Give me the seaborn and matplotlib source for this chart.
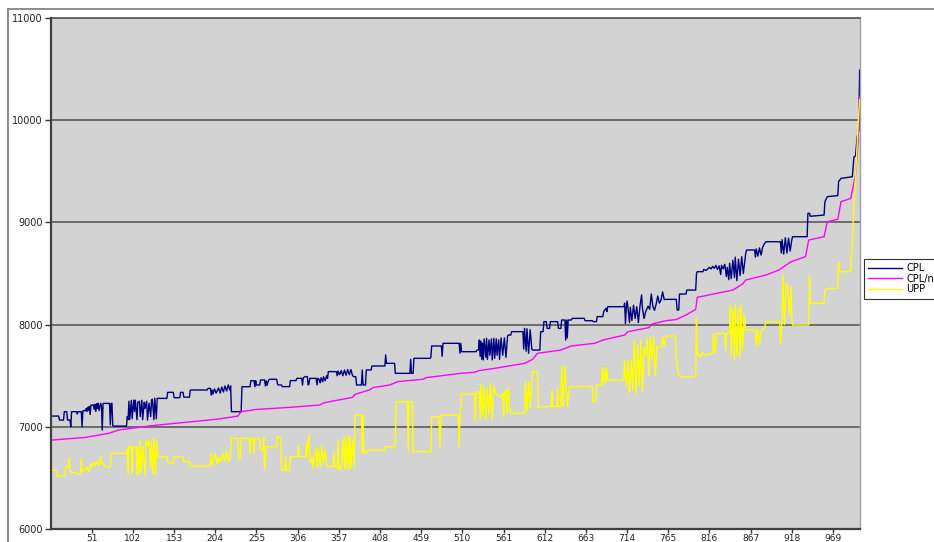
import matplotlib
matplotlib.use("Agg")
import matplotlib.pyplot as plt
from matplotlib.lines import Line2D
import seaborn as sns
import pandas as pd

N_POINTS = 1002
x_ticks = [51, 102, 153, 204, 255, 306, 357, 408, 459, 510, 561, 612, 663, 714, 765, 816, 867, 918, 969]
y_ticks = [6000, 7000, 8000, 9000, 10000, 11000]
series_names = ["CPL", "CPL/nuc", "UPP"]

# (category index, value)
cpl_points = [
    (1,7105),(10,7105),(11,7066),(16,7066),(17,7148),(20,7148),(21,7066),(24,7066),(25,7001),(26,7148),
    (32,7148),(33,7125),(34,7148),(38,7148),(39,7001),(40,7157),(43,7157),(44,7180),(45,7150),(46,7190),
    (47,7160),(48,7200),(49,7120),(50,7213),(53,7213),(54,7170),(55,7220),(56,7150),(57,7225),(58,7180),
    (59,7230),(60,7160),(62,7230),(63,7200),(64,6968),(65,7229),(73,7229),(74,7020),(75,7229),(76,7229),
    (77,7010),(78,7007),(94,7007),(95,7100),(96,7070),(97,7250),(98,7070),(100,7260),(101,7080),(103,7262),
    (104,7150),(105,7260),(107,7070),(108,7240),(110,7250),(111,7100),(113,7260),(114,7070),(116,7240),
    (117,7180),(119,7250),(120,7066),(122,7230),(124,7100),(125,7262),(126,7270),(128,7070),(129,7280),
    (131,7080),(132,7278),(144,7278),(145,7337),(152,7337),(153,7285),(160,7285),(161,7337),(164,7337),
    (165,7290),(172,7290),(173,7360),(194,7360),(195,7376),(198,7376),(199,7310),(200,7360),(201,7320),
    (203,7370),(205,7330),(208,7380),(210,7330),(212,7390),(214,7340),(216,7400),(218,7350),(220,7410),
    (222,7360),(223,7400),(224,7148),(236,7148),(237,7392),(247,7392),(248,7451),(252,7451),(253,7392),
    (254,7451),
    (255,7409),(259,7409),(260,7458),(265,7458),(266,7400),(267,7450),(268,7405),(270,7455),(271,7465),
    (280,7465),(281,7420),(282,7409),(286,7409),(287,7393),(296,7393),(297,7452),(304,7452),(305,7474),
    (311,7474),(312,7409),(313,7480),(315,7491),(318,7491),(319,7409),(320,7420),(321,7474),(329,7474),
    (330,7409),(331,7474),(333,7460),(334,7430),(335,7480),(337,7440),(338,7490),(340,7450),(342,7500),
    (343,7474),(344,7540),(354,7540),(355,7500),(356,7545),(358,7510),(360,7550),(362,7500),(364,7555),
    (366,7505),(368,7560),(370,7510),(372,7560),(374,7500),(376,7490),(378,7490),(379,7409),(385,7409),
    (386,7556),(387,7409),(390,7409),(391,7556),(397,7556),(398,7595),(414,7595),(415,7703),(416,7621),
    (426,7621),(427,7523),(445,7523),(446,7660),(447,7523),(449,7523),(450,7670),(470,7670),(471,7680),
    (472,7791),(484,7791),(485,7690),(486,7817),(506,7817),(507,7720),(508,7817),
    (509,7735),(527,7735),(528,7751),(530,7751),(531,7849),(532,7690),(533,7840),(534,7660),(535,7820),
    (536,7654),(537,7860),(539,7680),(540,7866),(541,7660),(543,7850),(544,7700),(546,7860),(547,7654),
    (549,7866),(550,7670),(552,7860),(553,7700),(555,7850),(556,7660),(558,7870),(560,7700),(562,7870),
    (564,7680),(566,7890),(567,7898),(570,7898),(571,7931),(585,7931),(586,7760),(587,7963),(589,7740),
    (590,7960),(592,7719),(594,7950),(596,7760),(597,7751),(606,7751),(607,7931),(610,7931),(611,8029),
    (614,8029),(615,7963),(618,7963),(619,8029),(628,8029),(629,7963),(632,7963),(633,8045),(637,8045),
    (638,7849),(639,8045),(640,7870),(641,8045),(645,8045),(646,8061),(661,8061),(662,8038),(671,8038),
    (672,8029),(676,8029),(677,8078),(684,8078),(685,8127),(688,8160),(689,8127),(690,8175),(710,8175),
    (711,8210),(712,8010),(713,8160),(714,8230),(715,8175),(717,8020),(718,8170),(720,8040),(722,8190),
    (724,8060),(726,8175),(728,8020),(730,8180),(732,8290),(733,8160),(735,8060),(737,8127),(740,8180),
    (742,8150),(744,8300),(746,8175),(748,8140),(750,8200),(752,8280),(754,8210),(756,8240),(758,8320),
    (760,8245),
    (762,8247),(775,8247),(776,8143),(778,8143),(779,8299),(787,8299),(788,8338),(799,8338),(800,8501),
    (801,8518),(808,8518),(809,8540),(812,8530),(816,8560),(818,8545),(820,8570),(822,8550),(824,8580),
    (826,8540),(828,8575),(830,8490),(831,8580),(833,8545),(835,8590),(837,8470),(838,8560),(840,8440),
    (841,8600),(843,8450),(845,8630),(847,8460),(848,8660),(850,8430),(852,8640),(854,8480),(856,8665),
    (858,8500),(861,8700),(862,8730),(872,8730),(873,8660),(874,8740),(876,8670),(878,8750),(880,8680),
    (882,8760),(884,8790),(886,8811),(904,8811),(905,8700),(906,8830),(908,8690),(910,8850),(912,8700),
    (914,8845),(916,8720),(918,8830),(919,8860),(937,8860),(938,9089),(940,9089),(941,9060),(958,9072),
    (959,9200),(960,9219),(962,9252),(975,9262),(976,9400),(979,9431),(993,9447),(995,9640),(997,9650),
    (999,9840),(1001,9900),(1002,10490),
]

cpl_nu_points = [
    (1,6870),(43,6896),(72,6936),(84,6968),(125,7011),(166,7043),(208,7076),(232,7105),(236,7148),
    (255,7170),(296,7190),(333,7213),(339,7236),(374,7288),(377,7318),(395,7360),(399,7383),(420,7409),
    (430,7442),(461,7465),(465,7481),(508,7523),(525,7533),(531,7550),(550,7572),(587,7621),(597,7660),
    (603,7719),(632,7751),(645,7791),(674,7817),(684,7849),(711,7898),(715,7931),(741,7970),(745,8006),
    (762,8038),(775,8050),(787,8094),(799,8149),(801,8267),(845,8338),(857,8397),(861,8436),(886,8485),
    (902,8534),(917,8615),(935,8665),(939,8828),(958,8860),(962,9007),(975,9030),(979,9203),(991,9235),
    (997,9464),(1000,9774),(1002,10230),
]

upp_points = [
    (1,6577),(7,6577),(8,6518),(17,6518),(18,6560),(19,6609),(22,6609),(23,6691),(24,6560),(34,6540),
    (37,6540),(38,6691),(39,6560),(40,6580),(44,6580),(45,6610),(47,6560),(49,6609),(50,6640),(51,6609),
    (53,6650),(55,6620),(57,6660),(60,6620),(62,6707),(63,6640),(66,6640),(67,6609),(74,6609),(75,6724),
    (76,6740),(94,6740),(95,6780),(96,6530),(97,6810),(99,6800),(100,6810),(101,6540),(102,6805),
    (106,6805),(107,6528),(108,6800),(110,6540),(111,6880),(112,6560),(114,6810),(117,6530),(118,6860),
    (120,6810),(122,6880),(124,6600),(125,6850),(127,6540),(128,6887),(130,6528),(131,6870),(133,6707),
    (144,6707),(145,6649),(152,6649),(153,6707),(164,6707),(165,6660),(172,6660),(173,6616),(198,6616),
    (199,6740),(200,6630),(202,6680),(204,6740),(206,6640),(208,6700),(210,6650),(213,6740),(215,6660),
    (218,6760),(220,6660),(222,6700),(224,6887),(232,6887),(233,6690),(235,6690),(236,6887),(246,6887),
    (247,6740),(248,6887),(251,6887),(252,6740),(253,6887),
    (259,6887),(260,6773),(263,6773),(264,6900),(265,6577),(267,6806),(280,6806),(281,6903),(285,6903),
    (286,6577),(290,6577),(291,6708),(292,6577),(296,6577),(297,6708),(306,6708),(307,6822),(308,6708),
    (316,6708),(317,6850),(318,6710),(320,6920),(322,6640),(324,6700),(325,6600),(327,6720),(329,6800),
    (330,6600),(332,6780),(334,6610),(336,6820),(338,6640),(340,6780),(342,6620),(344,6610),(350,6610),
    (351,6750),(352,6610),(355,6600),(356,6870),(357,6580),(360,6600),(362,6880),(364,6590),(365,6900),
    (366,6600),(368,6910),(369,6580),(371,6900),(372,6600),(374,6880),(376,6610),(377,7116),(385,7116),
    (386,6740),(387,7116),(388,6760),(390,6740),(393,6773),(414,6773),(415,6806),(427,6806),(428,7246),
    (442,7246),(443,6760),(444,7246),(448,7246),(449,6756),(471,6756),(472,7099),(481,7099),(482,6806),
    (484,7116),(505,7116),(506,6806),(507,7116),
    (509,7321),(525,7321),(526,7066),(527,7340),(531,7340),(532,7066),(533,7425),(535,7100),(537,7400),
    (539,7066),(541,7380),(543,7120),(545,7425),(547,7066),(549,7400),(551,7327),(558,7290),(560,7327),
    (561,7100),(562,7330),(564,7360),(565,7130),(567,7380),(569,7140),(571,7132),(587,7132),(588,7442),
    (590,7160),(592,7440),(594,7180),(596,7420),(597,7539),(603,7539),(604,7180),(607,7197),(620,7197),
    (621,7360),(622,7197),(627,7197),(628,7380),(629,7197),(632,7197),(633,7595),(635,7200),(637,7595),
    (640,7200),(643,7393),(671,7393),(672,7246),(675,7246),(676,7410),(682,7410),(683,7572),(685,7420),
    (686,7580),(688,7430),(689,7572),(690,7458),(710,7458),(711,7654),(713,7400),(715,7650),(717,7330),
    (719,7654),(721,7360),(723,7849),(725,7330),(727,7800),(729,7400),(731,7849),(733,7350),(735,7780),
    (737,7700),(739,7870),(741,7500),(743,7880),(745,7650),(747,7880),(749,7500),(751,7784),(757,7784),
    (758,7880),(760,7784),
    (762,7888),(774,7888),(775,7650),(778,7500),(790,7480),(799,7500),(800,8061),(801,7718),(805,7680),
    (807,7730),(810,7700),(820,7718),(821,7914),(823,7720),(825,7914),(835,7914),(836,7750),(837,7914),
    (841,7914),(842,8191),(843,7700),(845,8150),(847,7653),(848,8191),(850,7700),(852,8170),(854,7680),
    (855,8191),(857,7750),(859,8100),(861,7947),(873,7947),(874,7790),(876,7947),(878,7800),(880,7947),
    (884,7960),(886,8028),(903,8028),(904,7810),(906,8030),(907,8490),(909,8000),(911,8400),(913,8371),
    (915,8100),(917,8371),(918,8050),(919,7996),(939,7996),(940,8475),(941,8208),(958,8208),(959,8338),
    (962,8354),(975,8354),(976,8615),(977,8518),(991,8518),(993,8828),(995,9186),(998,9600),(1000,9937),
    (1002,10200),
]

series_colors = ["#000080", "#FF00FF", "#FFFF00"]

frames = []
for name, pts in zip(series_names, [cpl_points, cpl_nu_points, upp_points]):
    df = pd.DataFrame(pts, columns=["idx", "value"])
    df["series"] = name
    frames.append(df)
data = pd.concat(frames, ignore_index=True)

W, H = 934, 542
fig = plt.figure(figsize=(W / 100, H / 100), dpi=100)
fig.patch.set_facecolor("white")
ax = fig.add_axes([51 / W, 1 - 529 / H, (860 - 51) / W, (529 - 18) / H])
ax.set_facecolor("#d3d3d3")

for name, color in zip(series_names, series_colors):
    sub = data[data["series"] == name]
    sns.lineplot(data=sub, x="idx", y="value", color=color, linewidth=1.0,
                 sort=False, estimator=None, ax=ax, label=name)

ax.set_xlim(0.5, N_POINTS + 0.5)
ax.set_ylim(6000, 11000)
ax.set_xticks(x_ticks)
ax.set_xticklabels([str(t) for t in x_ticks])
ax.set_yticks(y_ticks)
ax.set_yticklabels([str(t) for t in y_ticks])
ax.set_xlabel("")
ax.set_ylabel("")
ax.tick_params(axis="y", labelsize=7, length=4, width=1, color="#333333",
               labelcolor="#222222", direction="out", pad=2)
ax.tick_params(axis="x", labelsize=6.5, length=3, width=1, color="#333333",
               labelcolor="#222222", direction="out", pad=0.5)
for gy in y_ticks[1:-1]:
    ax.axhline(gy, color="#505050", lw=1.1, zorder=0.5)

ax.spines["left"].set_color("#404040")
ax.spines["left"].set_linewidth(1.6)
ax.spines["bottom"].set_color("#404040")
ax.spines["bottom"].set_linewidth(1.6)
ax.spines["top"].set_color("#404040")
ax.spines["top"].set_linewidth(1.1)
ax.spines["right"].set_color("#a0a0a0")
ax.spines["right"].set_linewidth(1.0)

leg = ax.legend(loc="upper left", bbox_to_anchor=(864 / W, 1 - 259 / H),
                bbox_transform=fig.transFigure, fontsize=7, frameon=True,
                fancybox=False, borderpad=0.45, handlelength=3.5, handletextpad=0.4,
                labelspacing=0.05, borderaxespad=0)
leg.get_frame().set_edgecolor("black")
leg.get_frame().set_linewidth(0.8)
leg.get_frame().set_facecolor("white")
for line in leg.get_lines():
    line.set_linewidth(1.0)

# outer chart border
fig.add_artist(Line2D([8 / W, 1.0], [1 - 9 / H, 1 - 9 / H], transform=fig.transFigure,
                      color="#7a7a7a", lw=1.2))
fig.add_artist(Line2D([8 / W, 8 / W], [0.0, 1 - 9 / H], transform=fig.transFigure,
                      color="#7a7a7a", lw=1.2))

fig.savefig("out.png", dpi=100)
